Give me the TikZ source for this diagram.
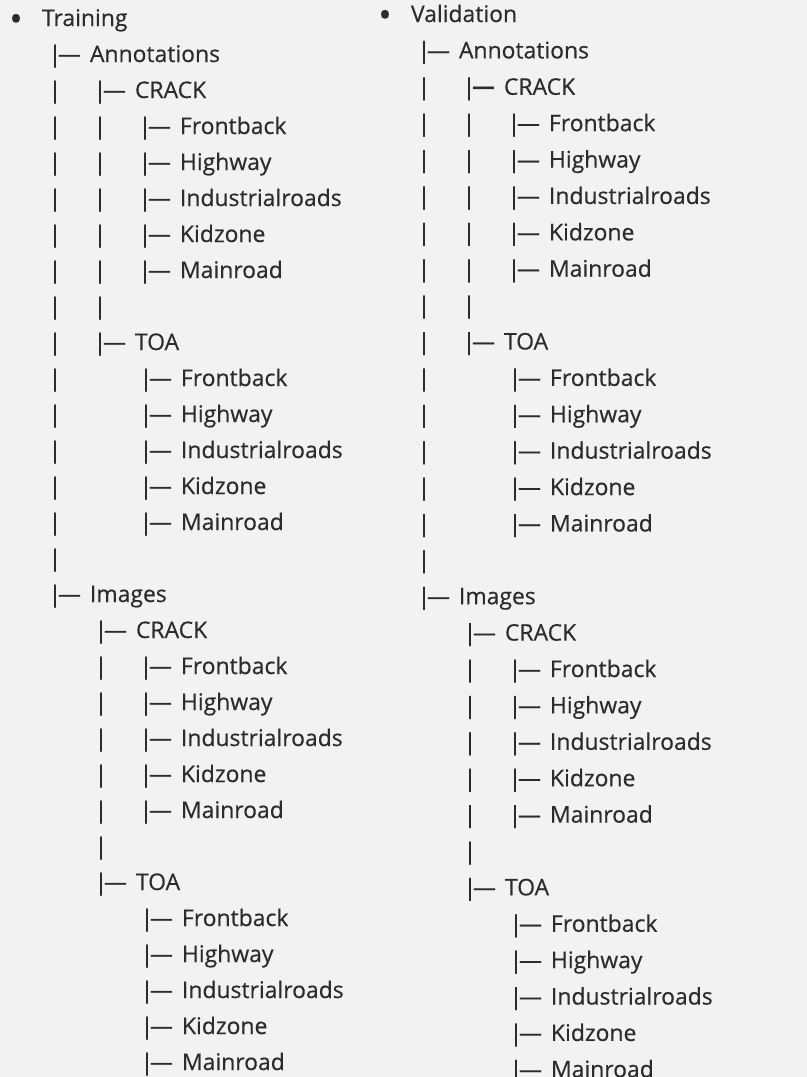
\documentclass[tikz,border=0pt]{standalone}
\usepackage{fontspec}
\setmainfont{Open Sans}
\newfontface\medf{Open Sans}[FakeBold=0.45]
\definecolor{bg}{RGB}{242,242,240}
\definecolor{txt}{RGB}{44,44,44}
\tikzset{
  base/.style={inner sep=0pt, outer sep=0pt, text=txt, font=\medf\fontsize{23}{27}\selectfont},
  lbl/.style={base, anchor=base west},
  barg/.style={base, anchor=base},
  dashg/.style={base, anchor=base west},
  bulg/.style={base, anchor=base, text height=0pt, text depth=0pt, font=\medf\fontsize{36}{40}\selectfont},
}
% left column: baseline y = 26 + 36 k ; right column: y = 22 + 36.39 k
\newcommand\Ybase{26}
\newcommand\Ystep{36}
\newcommand\Pfx{L}
\newcommand\Vbar[2]{\node[barg] (\Pfx bar-#1-#2) at (#1,{\Ybase+\Ystep*#2}) {|};}
\newcommand\Leaf[3]{%
  \node[barg] (\Pfx lb-#2) at (#1,{\Ybase+\Ystep*#2}) {|};
  \node[dashg] (\Pfx ld-#2) at (#1+3,{\Ybase+\Ystep*#2}) {—};
  \node[lbl] (\Pfx lt-#2) at (#1+35,{\Ybase+\Ystep*#2}) {#3};}
\newcommand\BLeaf[3]{%
  \node[barg] (\Pfx lb-#2) at (#1,{\Ybase+\Ystep*#2}) {|};
  \node[dashg,font=\fontsize{23}{27}\selectfont\bfseries] (\Pfx ld-#2) at (#1+3,{\Ybase+\Ystep*#2}) {—};
  \node[lbl] (\Pfx lt-#2) at (#1+35,{\Ybase+\Ystep*#2}) {#3};}
\newcommand\Bul[3]{%
  \node[bulg] (\Pfx bul) at (#1,{\Ybase+\Ystep*#3+5.4}) {•};
  \node[lbl] (\Pfx top) at (#1+26,{\Ybase+\Ystep*#3}) {#2};}
\begin{document}
\begin{tikzpicture}[x=1bp,y=-1bp]
\useasboundingbox (0,0) rectangle (807,1077);
\clip (0,0) rectangle (807,1077);
\fill[bg] (0,0) rectangle (807,1077);
% ---------------- Training ----------------
\renewcommand\Ybase{26}\renewcommand\Ystep{36}\renewcommand\Pfx{L}
\Bul{16}{Training}{0}
\Leaf{55}{1}{Annotations}
\Vbar{55}{2}\Leaf{100}{2}{CRACK}
\Vbar{55}{3}\Vbar{100}{3}\Leaf{145}{3}{Frontback}
\Vbar{55}{4}\Vbar{100}{4}\Leaf{145}{4}{Highway}
\Vbar{55}{5}\Vbar{100}{5}\Leaf{145}{5}{Industrialroads}
\Vbar{55}{6}\Vbar{100}{6}\Leaf{145}{6}{Kidzone}
\Vbar{55}{7}\Vbar{100}{7}\Leaf{145}{7}{Mainroad}
\Vbar{55}{8}\Vbar{100}{8}
\Vbar{55}{9}\Leaf{100}{9}{TOA}
\Vbar{55}{10}\Leaf{146}{10}{Frontback}
\Vbar{55}{11}\Leaf{146}{11}{Highway}
\Vbar{55}{12}\Leaf{146}{12}{Industrialroads}
\Vbar{55}{13}\Leaf{146}{13}{Kidzone}
\Vbar{55}{14}\Leaf{146}{14}{Mainroad}
\Vbar{55}{15}
\Leaf{55}{16}{Images}
\Leaf{101}{17}{CRACK}
\Vbar{101}{18}\Leaf{146}{18}{Frontback}
\Vbar{101}{19}\Leaf{146}{19}{Highway}
\Vbar{101}{20}\Leaf{146}{20}{Industrialroads}
\Vbar{101}{21}\Leaf{146}{21}{Kidzone}
\Vbar{101}{22}\Leaf{146}{22}{Mainroad}
\Vbar{101}{23}
\Leaf{101}{24}{TOA}
\Leaf{147}{25}{Frontback}
\Leaf{147}{26}{Highway}
\Leaf{147}{27}{Industrialroads}
\Leaf{147}{28}{Kidzone}
\Leaf{147}{29}{Mainroad}
% ---------------- Validation ----------------
\renewcommand\Ybase{22}\renewcommand\Ystep{36.39}\renewcommand\Pfx{R}
\Bul{385}{Validation}{0}
\Leaf{424}{1}{Annotations}
\Vbar{424}{2}\BLeaf{469}{2}{CRACK}
\Vbar{424}{3}\Vbar{469}{3}\Leaf{514}{3}{Frontback}
\Vbar{424}{4}\Vbar{469}{4}\Leaf{514}{4}{Highway}
\Vbar{424}{5}\Vbar{469}{5}\Leaf{514}{5}{Industrialroads}
\Vbar{424}{6}\Vbar{469}{6}\Leaf{514}{6}{Kidzone}
\Vbar{424}{7}\Vbar{469}{7}\Leaf{514}{7}{Mainroad}
\Vbar{424}{8}\Vbar{469}{8}
\Vbar{424}{9}\Leaf{469}{9}{TOA}
\Vbar{424}{10}\Leaf{515}{10}{Frontback}
\Vbar{424}{11}\Leaf{515}{11}{Highway}
\Vbar{424}{12}\Leaf{515}{12}{Industrialroads}
\Vbar{424}{13}\Leaf{515}{13}{Kidzone}
\Vbar{424}{14}\Leaf{515}{14}{Mainroad}
\Vbar{424}{15}
\Leaf{424}{16}{Images}
\Leaf{470}{17}{CRACK}
\Vbar{470}{18}\Leaf{515}{18}{Frontback}
\Vbar{470}{19}\Leaf{515}{19}{Highway}
\Vbar{470}{20}\Leaf{515}{20}{Industrialroads}
\Vbar{470}{21}\Leaf{515}{21}{Kidzone}
\Vbar{470}{22}\Leaf{515}{22}{Mainroad}
\Vbar{470}{23}
\Leaf{470}{24}{TOA}
\Leaf{516}{25}{Frontback}
\Leaf{516}{26}{Highway}
\Leaf{516}{27}{Industrialroads}
\Leaf{516}{28}{Kidzone}
\Leaf{516}{29}{Mainroad}
\end{tikzpicture}
\end{document}
